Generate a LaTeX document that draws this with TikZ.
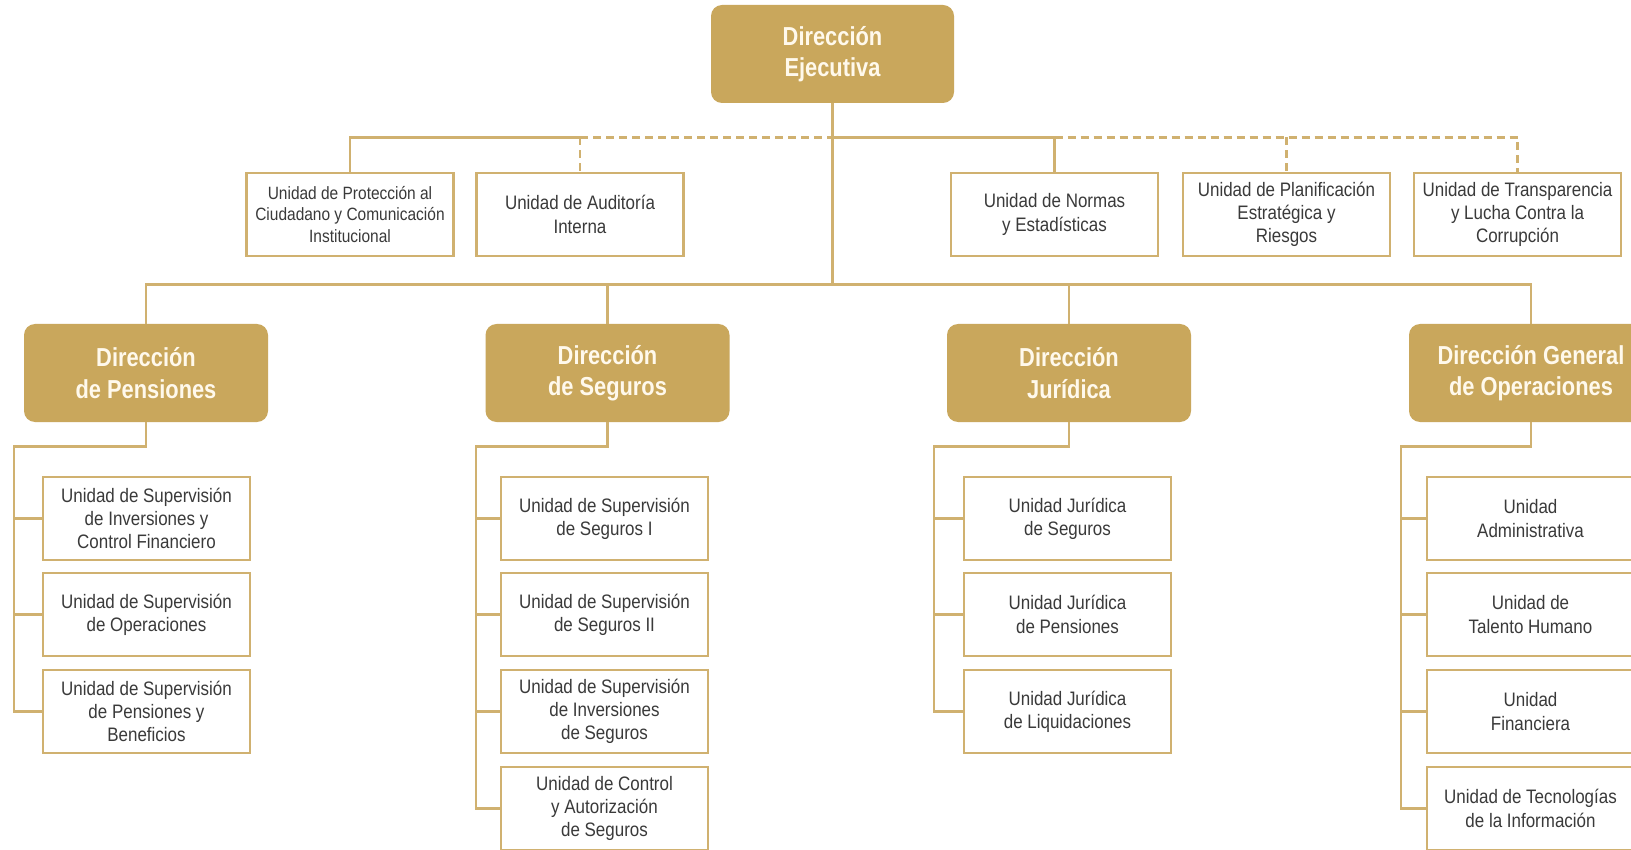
\documentclass[tikz,border=0pt]{standalone}
\usepackage{fontspec}
\newfontfamily\unitfont{Liberation Sans}[FakeStretch=0.87]
\newfontfamily\dirfont{Liberation Sans}[FakeStretch=0.84]
\definecolor{gold}{HTML}{C9A75C}
\definecolor{goldline}{HTML}{D0B170}
\definecolor{txt}{HTML}{3A3A3A}
\definecolor{cream}{HTML}{FFF9EC}
\tikzset{
  dirbox/.style={rectangle, rounded corners=11pt, fill=gold, draw=none,
    minimum width=244pt, minimum height=98pt, align=center, text=cream,
    font=\dirfont\bfseries\fontsize{26}{31.5}\selectfont, inner sep=0pt},
  unitbox/.style={rectangle, draw=goldline, line width=2.6pt, fill=white,
    minimum width=207pt, minimum height=83pt, align=center, text=txt,
    font=\unitfont\fontsize{19.5}{23.2}\selectfont, inner sep=0pt},
  smallunit/.style={unitbox, font=\unitfont\fontsize{17.8}{21.8}\selectfont},
  conn/.style={draw=goldline, line width=2.6pt},
  dconn/.style={draw=goldline, line width=2.6pt, dash pattern=on 8pt off 5pt}
}
\begin{document}
\begin{tikzpicture}[x=1pt,y=-1pt]
\useasboundingbox (0,0) rectangle (1631,850);
\fill[white] (0,0) rectangle (1631,850);
% bus coordinates
\coordinate (bus1) at (0,137.5);
\coordinate (bus2) at (0,284.5);
\coordinate (bus3) at (0,446.5);
% top
\node[dirbox, minimum width=243pt] (ejec) at (832.5,54) {Dirección\\Ejecutiva};
% row 1 units
\node[smallunit] (prot) at (350,214.5) {Unidad de Protección al\\Ciudadano y Comunicación\\Institucional};
\node[unitbox] (aud) at (580,214.5) {Unidad de Auditoría\\Interna};
\node[unitbox] (norm) at (1054.5,214.5) {Unidad de Normas\\y Estadísticas};
\node[unitbox] (plan) at (1286.5,214.5) {Unidad de Planificación\\Estratégica y\\Riesgos};
\node[unitbox] (trans) at (1517.5,214.5) {Unidad de Transparencia\\y Lucha Contra la\\Corrupción};
% directorates
\node[dirbox] (pens) at (146,373) {Dirección\\de Pensiones};
\node[dirbox] (seg) at (607.5,373) {Dirección\\de Seguros};
\node[dirbox] (jur) at (1069,373) {Dirección\\Jurídica};
\node[dirbox] (ops) at (1531,373) {Dirección General\\de Operaciones};
% Pensiones units
\node[unitbox] (p1) at (146.5,518.5) {Unidad de Supervisión\\de Inversiones y\\Control Financiero};
\node[unitbox] (p2) at (146.5,614.5) {Unidad de Supervisión\\de Operaciones};
\node[unitbox] (p3) at (146.5,711.5) {Unidad de Supervisión\\de Pensiones y\\Beneficios};
% Seguros units
\node[unitbox] (s1) at (604.5,518.5) {Unidad de Supervisión\\de Seguros I};
\node[unitbox] (s2) at (604.5,614.5) {Unidad de Supervisión\\de Seguros II};
\node[unitbox] (s3) at (604.5,711.5) {Unidad de Supervisión\\de Inversiones\\de Seguros};
\node[unitbox] (s4) at (604.5,808.5) {Unidad de Control\\y Autorización\\de Seguros};
% Juridica units
\node[unitbox] (j1) at (1067.5,518.5) {Unidad Jurídica\\de Seguros};
\node[unitbox] (j2) at (1067.5,614.5) {Unidad Jurídica\\de Pensiones};
\node[unitbox] (j3) at (1067.5,711.5) {Unidad Jurídica\\de Liquidaciones};
% Operaciones units
\node[unitbox] (o1) at (1530.5,518.5) {Unidad\\Administrativa};
\node[unitbox] (o2) at (1530.5,614.5) {Unidad de\\Talento Humano};
\node[unitbox] (o3) at (1530.5,711.5) {Unidad\\Financiera};
\node[unitbox] (o4) at (1530.5,808.5) {Unidad de Tecnologías\\de la Información};
% bracket corners
\coordinate (pb) at (14,446.5);
\coordinate (sb) at (476,446.5);
\coordinate (jb) at (934,446.5);
\coordinate (ob) at (1401,446.5);
% top connectors
\draw[conn] (ejec.south) -- (ejec.south |- bus2);
\draw[conn] (prot.north) -- (prot.north |- bus1) -- (aud.north |- bus1);
\draw[dconn] (aud.north |- bus1) -- (ejec.south |- bus1);
\draw[dconn] (aud.north |- bus1) -- (aud.north);
\draw[conn] (ejec.south |- bus1) -- (norm.north |- bus1) -- (norm.north);
\draw[dconn] (norm.north |- bus1) -- (trans.north |- bus1) -- (trans.north);
\draw[dconn] (plan.north |- bus1) -- (plan.north);
% directorate bus
\draw[conn] (pens.north) -- (pens.north |- bus2) -- (ops.north |- bus2) -- (ops.north);
\draw[conn] (seg.north |- bus2) -- (seg.north);
\draw[conn] (jur.north |- bus2) -- (jur.north);
% Pensiones bracket
\draw[conn] (pens.south) -- (pens.south |- pb) -- (pb) -- (pb |- p3.west) -- (p3.west);
\draw[conn] (pb |- p1.west) -- (p1.west);
\draw[conn] (pb |- p2.west) -- (p2.west);
% Seguros bracket
\draw[conn] (seg.south) -- (seg.south |- sb) -- (sb) -- (sb |- s4.west) -- (s4.west);
\draw[conn] (sb |- s1.west) -- (s1.west);
\draw[conn] (sb |- s2.west) -- (s2.west);
\draw[conn] (sb |- s3.west) -- (s3.west);
% Juridica bracket
\draw[conn] (jur.south) -- (jur.south |- jb) -- (jb) -- (jb |- j3.west) -- (j3.west);
\draw[conn] (jb |- j1.west) -- (j1.west);
\draw[conn] (jb |- j2.west) -- (j2.west);
% Operaciones bracket
\draw[conn] (ops.south) -- (ops.south |- ob) -- (ob) -- (ob |- o4.west) -- (o4.west);
\draw[conn] (ob |- o1.west) -- (o1.west);
\draw[conn] (ob |- o2.west) -- (o2.west);
\draw[conn] (ob |- o3.west) -- (o3.west);
\end{tikzpicture}
\end{document}
